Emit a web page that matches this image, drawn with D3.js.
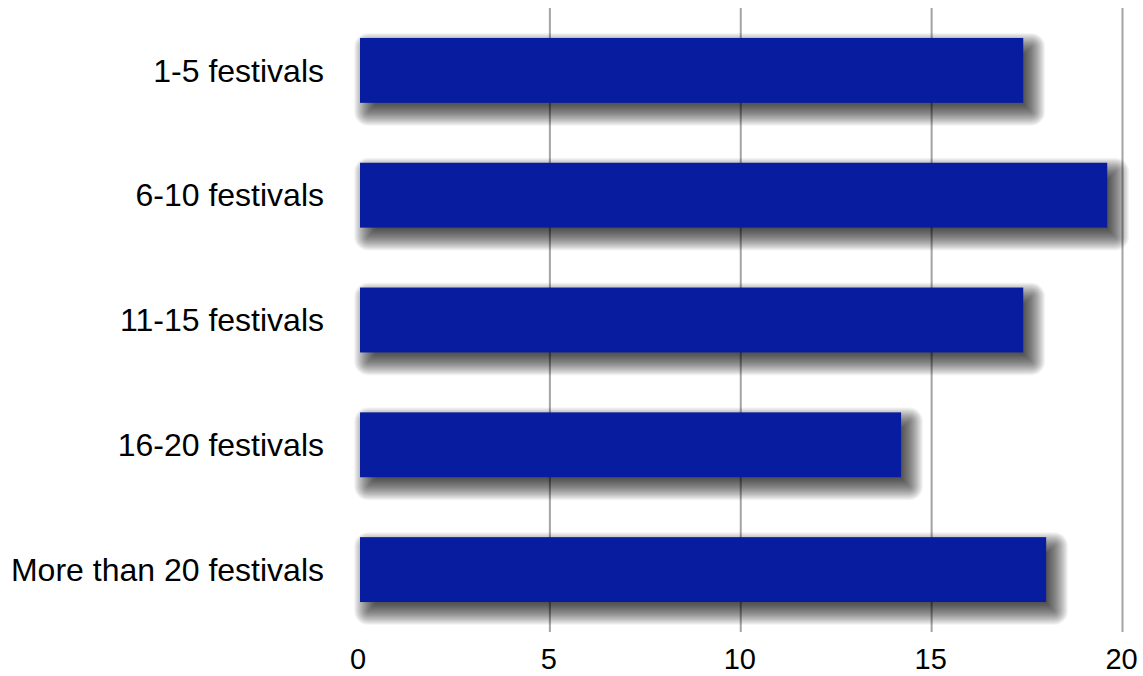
<!DOCTYPE html>
<html>
<head>
<meta charset="utf-8">
<script src="https://d3js.org/d3.v7.min.js"></script>
<style>
  html, body { margin: 0; padding: 0; background: #ffffff; }
  svg { display: block; }
  text { font-family: Helvetica, Arial, "Liberation Sans", sans-serif; fill: #000; }
</style>
</head>
<body>
<script>
// Number of festivals attended, by bracket
const categories = ["1-5 festivals", "6-10 festivals", "11-15 festivals", "16-20 festivals", "More than 20 festivals"];
const values = [17.4, 19.6, 17.4, 14.2, 18.0];
const tickValues = [0, 5, 10, 15, 20];
const gridValues = [5, 10, 15, 20];

const width = 1143, height = 676;

const svg = d3.select("body").append("svg")
  .attr("width", width)
  .attr("height", height);

const x = d3.scaleLinear().domain([0, 20]).range([359, 1122.5]);
const y = d3.scaleBand()
  .domain(categories)
  .range([8, 632])
  .paddingInner(0.48)
  .paddingOuter(0.24);

// Vertical grid lines
svg.append("g").selectAll("line")
  .data(gridValues)
  .join("line")
  .attr("x1", d => x(d)).attr("x2", d => x(d))
  .attr("y1", 8).attr("y2", 632)
  .attr("stroke", "#a3a3a3")
  .attr("stroke-width", 2);

// Soft shadows: many faint rectangles, each a little smaller than the last,
// offset down and to the right of each bar so the edges fade out gradually
const shadowLayers = d3.range(32).map(i => 14 - i * 0.7);
const sx = 8, sy = 9;
const shadowG = svg.append("g");
categories.forEach((c, i) => {
  const bx = x(0) + 1, by = y(c);
  const bw = x(values[i]) - x(0) - 1, bh = y.bandwidth();
  shadowG.append("g").selectAll("rect")
    .data(shadowLayers)
    .join("rect")
    .attr("x", r => bx + sx - r)
    .attr("y", r => by + sy - r)
    .attr("width", r => Math.max(0, bw + 2 * r))
    .attr("height", r => Math.max(0, bh + 2 * r))
    .attr("rx", r => Math.max(0, r))
    .attr("fill", "#000")
    .attr("fill-opacity", 0.03);
});

// Bars
svg.append("g").selectAll("rect")
  .data(categories)
  .join("rect")
  .attr("x", x(0) + 1)
  .attr("y", d => y(d))
  .attr("width", (d, i) => x(values[i]) - x(0) - 1)
  .attr("height", y.bandwidth())
  .attr("fill", "#081ca0");

// Category labels
const yAxis = d3.axisLeft(y).tickSize(0).tickPadding(0);
svg.append("g")
  .attr("transform", "translate(324,0)")
  .call(yAxis)
  .call(g => g.select(".domain").remove())
  .call(g => g.selectAll("text")
    .attr("font-size", 32)
    .attr("font-family", "Helvetica, Arial, 'Liberation Sans', sans-serif")
    .attr("fill", "#000")
    .attr("dy", "0.35em"));

// Value axis labels
const xAxis = d3.axisBottom(x).tickValues(tickValues).tickSize(0).tickPadding(0)
  .tickFormat(d3.format("d"));
svg.append("g")
  .attr("transform", "translate(-1.5,669)")
  .call(xAxis)
  .call(g => g.select(".domain").remove())
  .call(g => g.selectAll("text")
    .attr("font-size", 29)
    .attr("font-family", "Helvetica, Arial, 'Liberation Sans', sans-serif")
    .attr("fill", "#000")
    .attr("y", 0)
    .attr("dy", 0));
</script>
</body>
</html>
